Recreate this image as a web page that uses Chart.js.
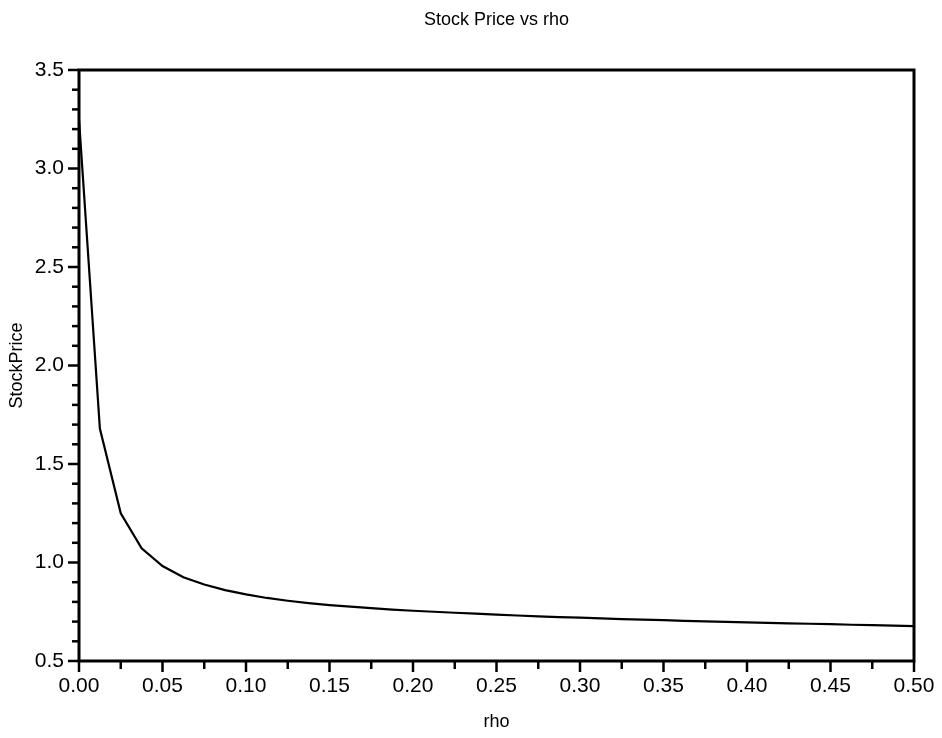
<!DOCTYPE html>
<html>
<head>
<meta charset="utf-8">
<title>Stock Price vs rho</title>
<script src="https://cdn.jsdelivr.net/npm/chart.js@4.4.1/dist/chart.umd.min.js"></script>
<style>
  html, body { margin: 0; padding: 0; background: #fff; }
  #wrap { width: 942px; height: 738px; }
</style>
</head>
<body>
<div id="wrap"><canvas id="chart" width="942" height="738"></canvas></div>
<script>
// rho values (x) and the stock price (y)
const rho = [
  0.0, 0.0125, 0.025, 0.0375, 0.05, 0.0625, 0.075, 0.0875, 0.1, 0.1125,
  0.125, 0.1375, 0.15, 0.1625, 0.175, 0.1875, 0.2, 0.2125, 0.225, 0.2375,
  0.25, 0.2625, 0.275, 0.2875, 0.3, 0.3125, 0.325, 0.3375, 0.35, 0.3625,
  0.375, 0.3875, 0.4, 0.4125, 0.425, 0.4375, 0.45, 0.4625, 0.475, 0.4875, 0.5
];
const stockPrice = [
  3.25, 1.68, 1.25, 1.072, 0.982, 0.925, 0.888, 0.860, 0.838, 0.820,
  0.806, 0.794, 0.784, 0.776, 0.768, 0.761, 0.755, 0.750, 0.745, 0.740,
  0.735, 0.731, 0.727, 0.723, 0.720, 0.716, 0.713, 0.710, 0.707, 0.704,
  0.701, 0.699, 0.696, 0.694, 0.691, 0.689, 0.687, 0.684, 0.682, 0.680, 0.677
];

const FONT = 'Liberation Sans, Arial, Helvetica, sans-serif';

// box around the plot plus outward tick marks (major + minor)
const frameTicks = {
  id: 'frameTicks',
  afterDraw(chart) {
    const ctx = chart.ctx;
    const a = chart.chartArea;
    const xs = chart.scales.x;
    const ys = chart.scales.y;
    ctx.save();
    ctx.strokeStyle = '#000';
    ctx.lineCap = 'butt';

    // y: minor every 0.1, major every 0.5
    ctx.lineWidth = 2.5;
    for (let i = 0; i <= 30; i++) {
      const py = ys.getPixelForValue(ys.min + i * 0.1);
      const len = (i % 5 === 0) ? 11 : 7;
      ctx.beginPath();
      ctx.moveTo(a.left, py);
      ctx.lineTo(a.left - len, py);
      ctx.stroke();
    }
    // x: minor every 0.025, major every 0.05
    for (let i = 0; i <= 20; i++) {
      const px = xs.getPixelForValue(xs.min + i * 0.025);
      const len = (i % 2 === 0) ? 11 : 8;
      ctx.beginPath();
      ctx.moveTo(px, a.bottom);
      ctx.lineTo(px, a.bottom + len);
      ctx.stroke();
    }

    ctx.lineWidth = 3;
    ctx.strokeRect(a.left, a.top, a.right - a.left, a.bottom - a.top);
    ctx.restore();
  }
};

new Chart(document.getElementById('chart'), {
  type: 'line',
  data: {
    datasets: [{
      label: 'StockPrice',
      data: rho.map((r, i) => ({ x: r, y: stockPrice[i] })),
      borderColor: '#000',
      borderWidth: 2.2,
      pointRadius: 0,
      tension: 0,
      fill: false
    }]
  },
  options: {
    responsive: false,
    animation: false,
    layout: { padding: { left: 0, right: 28, top: 0, bottom: 0 } },
    plugins: {
      legend: { display: false },
      tooltip: { enabled: false },
      title: {
        display: true,
        text: 'Stock Price vs rho',
        fullSize: false,
        color: '#000',
        font: { family: FONT, size: 18, weight: 'normal' },
        padding: { top: 9, bottom: 39.4 }
      }
    },
    scales: {
      x: {
        type: 'linear',
        min: 0,
        max: 0.5,
        grid: { display: false, drawTicks: false },
        border: { display: false },
        ticks: {
          stepSize: 0.05,
          padding: 13,
          color: '#000',
          maxRotation: 0,
          font: { family: FONT, size: 21 },
          callback: v => v.toFixed(2)
        },
        title: {
          display: true,
          text: 'rho',
          color: '#000',
          font: { family: FONT, size: 18 },
          padding: { top: 0, bottom: 5 }
        },
        afterFit(scale) {
          scale.height = 77;
          scale.paddingLeft = 0;
          scale.paddingRight = 0;
        }
      },
      y: {
        min: 0.5,
        max: 3.5,
        grid: { display: false, drawTicks: false },
        border: { display: false },
        ticks: {
          stepSize: 0.5,
          padding: 15,
          color: '#000',
          font: { family: FONT, size: 21 },
          callback: v => v.toFixed(1)
        },
        title: {
          display: true,
          text: 'StockPrice',
          color: '#000',
          font: { family: FONT, size: 18 },
          padding: { top: 6, bottom: 0 }
        },
        afterFit(scale) { scale.width = 79; }
      }
    }
  },
  plugins: [frameTicks]
});
</script>
</body>
</html>
